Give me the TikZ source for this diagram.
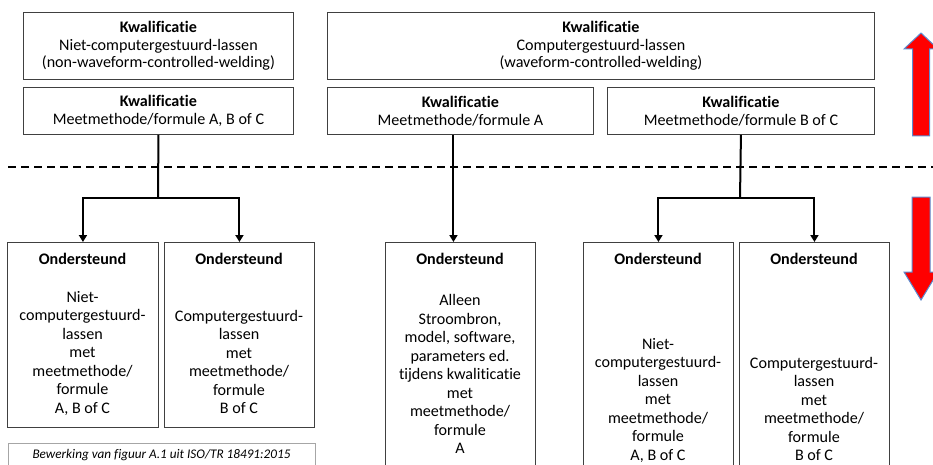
\documentclass[tikz,border=0pt]{standalone}
\usepackage{fontspec}
\setmainfont{Carlito}[Ligatures={NoCommon}]
\usetikzlibrary{arrows.meta}
\definecolor{outl}{HTML}{5B8BD0}
\definecolor{boxline}{HTML}{404040}
\begin{document}
\begin{tikzpicture}[x=1pt,y=-1pt,
  box/.style={draw=boxline,line width=0.9pt,inner sep=0pt,anchor=north west,align=center,
              font=\fontsize{16.1}{17.7}\selectfont},
  hdr/.style={font=\fontsize{16.1}{17.7}\selectfont\bfseries,inner sep=0pt},
  body/.style={align=center,font=\fontsize{16.1}{18.5}\selectfont,inner sep=0pt},
  conn/.style={line width=2pt},
  arr/.style={line width=2pt,-{Triangle[width=8pt,length=7pt]}},
  dline/.style={line width=1.2pt,dash pattern=on 8pt off 5pt},
  bigarrow/.style={fill=red,draw=outl,line width=1pt,line join=miter}]
\clip (0,0) rectangle (933,465);
% top row
\node[box,minimum width=270pt,minimum height=67pt] (q1) at (23,12)
  {\textbf{Kwalificatie}\\Niet-computergestuurd-lassen\\(non-waveform-controlled-welding)};
\node[box,minimum width=547pt,minimum height=67pt] (q2) at (327,12)
  {\textbf{Kwalificatie}\\Computergestuurd-lassen\\(waveform-controlled-welding)};
\node[box,minimum width=270pt,minimum height=47pt] (kwL) at (23,87)
  {\textbf{Kwalificatie}\\Meetmethode/formule A, B of C};
\node[box,minimum width=266pt,minimum height=47pt] (kwA) at (327,87)
  {\textbf{Kwalificatie}\\Meetmethode/formule A};
\node[box,minimum width=267pt,minimum height=47pt] (kwB) at (607,87)
  {\textbf{Kwalificatie}\\Meetmethode/formule B of C};
% dashed separator
\coordinate (d1) at (8,167);
\coordinate (d2) at (940,167);
\draw[dline] (d1) -- (d2);
% bottom boxes
\node[box,minimum width=151pt,minimum height=185pt] (L1) at (7,242) {};
\node[box,minimum width=150pt,minimum height=185pt] (L2) at (164,242) {};
\node[box,minimum width=150pt,minimum height=240pt] (M) at (385,242) {};
\node[box,minimum width=150pt,minimum height=240pt] (R1) at (583,242) {};
\node[box,minimum width=150pt,minimum height=240pt] (R2) at (739,242) {};
\node[hdr] (L1h) at (82.5,259) {Ondersteund};
\node[hdr] (L2h) at (239,259) {Ondersteund};
\node[hdr] (Mh) at (460,259) {Ondersteund};
\node[hdr] (R1h) at (658,259) {Ondersteund};
\node[hdr] (R2h) at (814,259) {Ondersteund};
\node[body] (L1b) at (82.5,353) {Niet-\\computergestuurd-\\lassen\\met\\meetmethode/\\formule\\A, B of C};
\node[body] (L2b) at (239,362) {Computergestuurd-\\lassen\\met\\meetmethode/\\formule\\B of C};
\node[body] (Mb) at (460,374) {Alleen\\Stroombron,\\model, software,\\parameters ed.\\tijdens kwaliticatie\\met\\meetmethode/\\formule\\A};
\node[body] (R1b) at (658,400) {Niet-\\computergestuurd-\\lassen\\met\\meetmethode/\\formule\\A, B of C};
\node[body] (R2b) at (814,409) {Computergestuurd-\\lassen\\met\\meetmethode/\\formule\\B of C};
% connectors
\coordinate (bL) at (158,198);
\draw[conn] (kwL.south) -- (bL);
\draw[arr] (bL) -| (L1.north);
\draw[arr] (bL) -| (L2.north);
\draw[arr] ([xshift=-7pt]kwA.south) -- ([xshift=-7pt]M.north);
\coordinate (bR) at (740,198);
\draw[conn] (kwB.south) -- (bR);
\draw[arr] (bR) -| (R1.north);
\draw[arr] (bR) -| (R2.north);
% caption
\node[draw=black!35,line width=0.7pt,inner sep=0pt,anchor=north west,minimum width=307pt,minimum height=30pt] (cap) at (8,443) {};
\node[font=\fontsize{13.2}{15}\selectfont\itshape,inner sep=0pt] (capt) at (161.5,455) {Bewerking van figuur A.1 uit ISO/TR 18491:2015};
% red arrows
\draw[bigarrow] (912.5,136) -- (912.5,49) -- (904,49) -- (921,33) -- (938,49) -- (929.5,49) -- (929.5,136) -- cycle;
\draw[bigarrow] (912,197) -- (930,197) -- (930,272) -- (938,272) -- (921,300) -- (904,272) -- (912,272) -- cycle;
\end{tikzpicture}
\end{document}
